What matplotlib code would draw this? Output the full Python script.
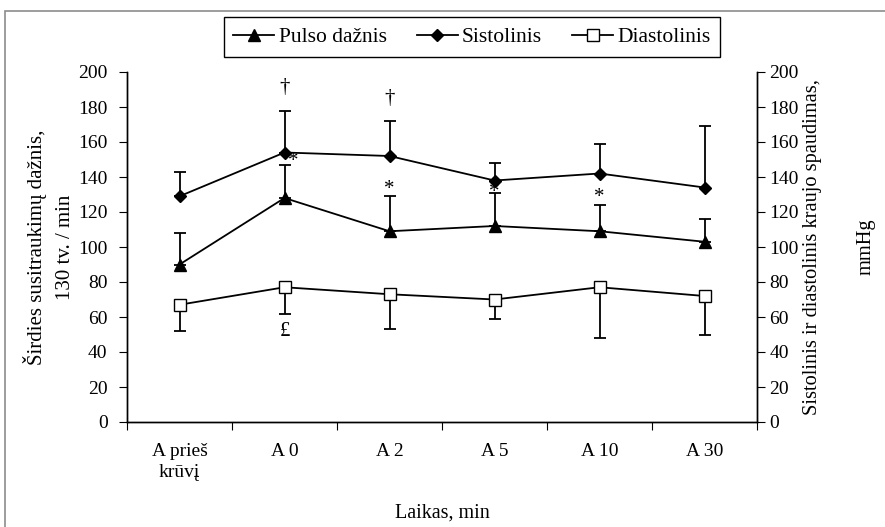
import matplotlib.pyplot as plt
from matplotlib.patches import Rectangle
import numpy as np

plt.rcParams['font.family'] = ['Liberation Serif', 'DejaVu Serif']
plt.rcParams['font.size'] = 14

categories = ['A prieš\nkrūvį', 'A 0', 'A 2', 'A 5', 'A 10', 'A 30']

pulse = [90, 128, 109, 112, 109, 103]
pulse_err = [18, 19, 20, 19, 15, 13]

sys_bp = [129, 154, 152, 138, 142, 134]
sys_err = [14, 24, 20, 10, 17, 35]

dia_bp = [67, 77, 73, 70, 77, 72]
dia_err = [15, 15, 20, 11, 29, 22]

# annotations: (category index, y value, symbol)
marks = [(1, 191, '†'), (2, 185, '†'),
         (1.08, 149, '*'), (2, 133, '*'), (3, 131, '*'), (4, 128, '*'),
         (1, 52, '£')]

fig = plt.figure(figsize=(8.85, 5.27), dpi=100)
fig.patches.append(Rectangle((5 / 885, -0.1), 1.2, 1 - 11 / 527 + 0.1,
                             transform=fig.transFigure, fill=False,
                             edgecolor='#8c8c8c', linewidth=1.2))

ax = fig.add_axes([127 / 885, 1 - 422 / 527, 630 / 885, 350 / 527])
x = np.arange(len(categories)) + 0.5

line_kw = dict(color='black', linewidth=1.3, ecolor='black',
               elinewidth=1.3, capsize=4, capthick=1.3)
h1 = ax.errorbar(x, pulse, yerr=[np.zeros(6), pulse_err], marker='^',
                 markersize=8, **line_kw)
h2 = ax.errorbar(x, sys_bp, yerr=[np.zeros(6), sys_err], marker='D',
                 markersize=6, **line_kw)
h3 = ax.errorbar(x, dia_bp, yerr=[dia_err, np.zeros(6)], marker='s',
                 markersize=8, markerfacecolor='white', **line_kw)

for i, y, s in marks:
    ax.text(i + 0.5, y, s, ha='center', va='center', fontsize=15)

ax.set_xlim(0, 6)
ax.set_ylim(0, 200)
ax.set_yticks(range(0, 201, 20))
ax.set_xticks(range(0, 7))
ax.set_xticklabels([])
ax.set_xticks(x, minor=True)
ax.set_xticklabels(categories, minor=True, linespacing=1.35)
ax.tick_params(axis='x', which='minor', length=0, pad=15)
ax.tick_params(axis='x', which='major', length=6, direction='out')
ax.tick_params(axis='y', length=6, direction='out', pad=8)
ax.spines['top'].set_visible(False)
for sp in ax.spines.values():
    sp.set_linewidth(1.0)

ax.set_ylabel('Širdies susitraukimų dažnis,\n130 tv. / min', fontsize=15,
              linespacing=1.65, labelpad=2)
ax.set_xlabel('Laikas, min', fontsize=14.5, labelpad=16)

ax2 = ax.twinx()
ax2.set_ylim(0, 200)
ax2.set_yticks(range(0, 201, 20))
ax2.tick_params(axis='y', length=6, direction='out', pad=3)
ax2.spines['top'].set_visible(False)
for sp in ax2.spines.values():
    sp.set_linewidth(1.0)
fig.text(812 / 885, 1 - 247 / 527, 'Sistolinis ir diastolinis kraujo spaudimas,',
         rotation=90, ha='center', va='center', fontsize=14.7)
fig.text(866 / 885, 1 - 247 / 527, 'mmHg', rotation=90, ha='center',
         va='center', fontsize=14.7)

fig.legend([h1[0], h2[0], h3[0]], ['Pulso dažnis', 'Sistolinis', 'Diastolinis'],
           loc='center', bbox_to_anchor=(472 / 885, 1 - 37 / 527), ncol=3,
           frameon=True, fancybox=False, edgecolor='black', framealpha=1,
           handlelength=1.9, handletextpad=0.2, columnspacing=1.4,
           borderpad=0.45, fontsize=15.5)
fig.legends[0].get_frame().set_linewidth(1.0)

fig.savefig('out.png', dpi=100)
